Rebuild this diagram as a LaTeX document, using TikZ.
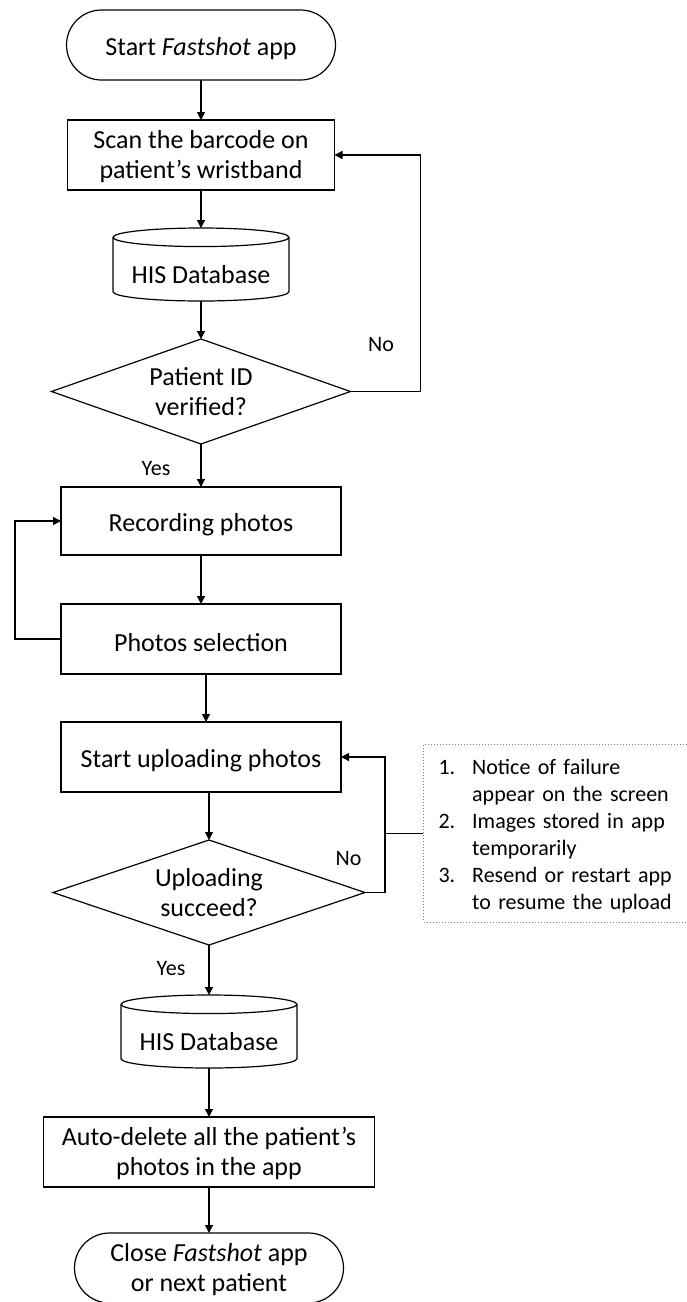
\documentclass[tikz,border=0pt]{standalone}
\usepackage{fontspec}
\setmainfont{Carlito}
\usetikzlibrary{positioning,arrows.meta,shapes.geometric,shapes.misc}

\begin{document}
\begin{tikzpicture}[
  x=1pt, y=1pt,
  font=\fontsize{26}{30}\selectfont,
  box/.style={draw, line width=1.2pt, outer sep=0pt, minimum height=70pt, minimum width=280pt, align=center, inner sep=2pt, text height=26pt},
  term/.style={draw, line width=1.2pt, outer sep=0pt, rounded rectangle, minimum height=70pt, minimum width=273pt, align=center, inner sep=2pt, text height=26pt},
  twoline/.style={text height=52pt},
  db/.style={draw, line width=1.2pt, outer sep=0pt, cylinder, shape border rotate=90, aspect=0.13, minimum height=73pt, minimum width=176pt, inner sep=2pt, text height=26pt},
  decision/.style={draw, line width=1.2pt, outer sep=0pt, diamond, aspect=2.9, minimum height=105pt, minimum width=300pt, inner sep=0pt, align=center},
  note/.style={draw=gray, dotted, line width=1pt, minimum height=178pt, text width=245pt, inner xsep=15pt, inner ysep=0pt, font=\fontsize{22}{27}\selectfont},
  arrow/.style={-{Triangle[length=8pt,width=8pt]}, line width=1.2pt},
  lbl/.style={font=\fontsize{22}{26}\selectfont, inner sep=0pt}
]
  \useasboundingbox (0,0) rectangle (686,-1302);
  \node[term] (start) at (201,-45) {Start \textit{Fastshot} app};
  \node[box, twoline, below=40pt of start, minimum width=267pt] (scan) {Scan the barcode on\\patient’s wristband};
  \node[db, below=38pt of scan] (his1) {HIS Database};
  \node[decision, below=38pt of his1, minimum width=299pt] (verified) {Patient ID\\verified?};
  \node[box, below=43pt of verified, minimum height=68pt] (record) {Recording photos};
  \node[box, below=49pt of record] (select) {Photos selection};
  \node[box, below=48pt of select] (upload) {Start uploading photos};
  \node[decision, below=48pt of upload, xshift=8pt, minimum width=312pt] (succeed) {Uploading\\succeed?};
  \node[db, below=50pt of succeed] (his2) {HIS Database};
  \node[box, twoline, below=49pt of his2, minimum width=331pt] (delete) {Auto-delete all the patient’s\\photos in the app};
  \node[term, twoline, below=46pt of delete] (close) {Close \textit{Fastshot} app\\or next patient};
  \node[note, anchor=west] (fail) at (423,-833) {\raisebox{-4pt}[\height][\depth]{\begin{tabular}{@{}l@{\hspace{17pt}}l@{}}
    1. & Notice of failure\\
       & appear on the screen\\
    2. & Images stored in app\\
       & temporarily\\
    3. & Resend or restart app\\
       & to resume the upload
  \end{tabular}}};
  \coordinate[right=70pt of verified.east] (retry);
  \coordinate[left=46pt of select.west] (again);
  \coordinate[right=20pt of succeed.east] (resend);
  \draw[arrow] (start) -- (scan);
  \draw[arrow] (scan) -- (his1);
  \draw[arrow] (his1) -- (verified);
  \draw[arrow] (verified) -- node[lbl, left=30pt, pos=0.58] {Yes} (record);
  \draw[arrow] (verified.east) -- (retry) |- node[lbl, pos=0.1, left=26pt] {No} (scan.east);
  \draw[arrow] (record) -- (select);
  \draw[arrow] (select.west) -- (again) |- (record.west);
  \draw[arrow] ([xshift=5pt]select.south) -- ([xshift=5pt]select.south |- upload.north);
  \draw[arrow] (upload.south -| succeed.north) -- (succeed.north);
  \draw[arrow] (succeed.east) -- (resend) |- node[lbl, pos=0.125, left=23pt] {No} (upload.east);
  \draw (fail.west) -- (fail.west -| resend);
  \draw[arrow] (succeed) -- node[lbl, left=23pt, pos=0.48] {Yes} (his2);
  \draw[arrow] (his2) -- (delete);
  \draw[arrow] (delete) -- (close);
\end{tikzpicture}
\end{document}
